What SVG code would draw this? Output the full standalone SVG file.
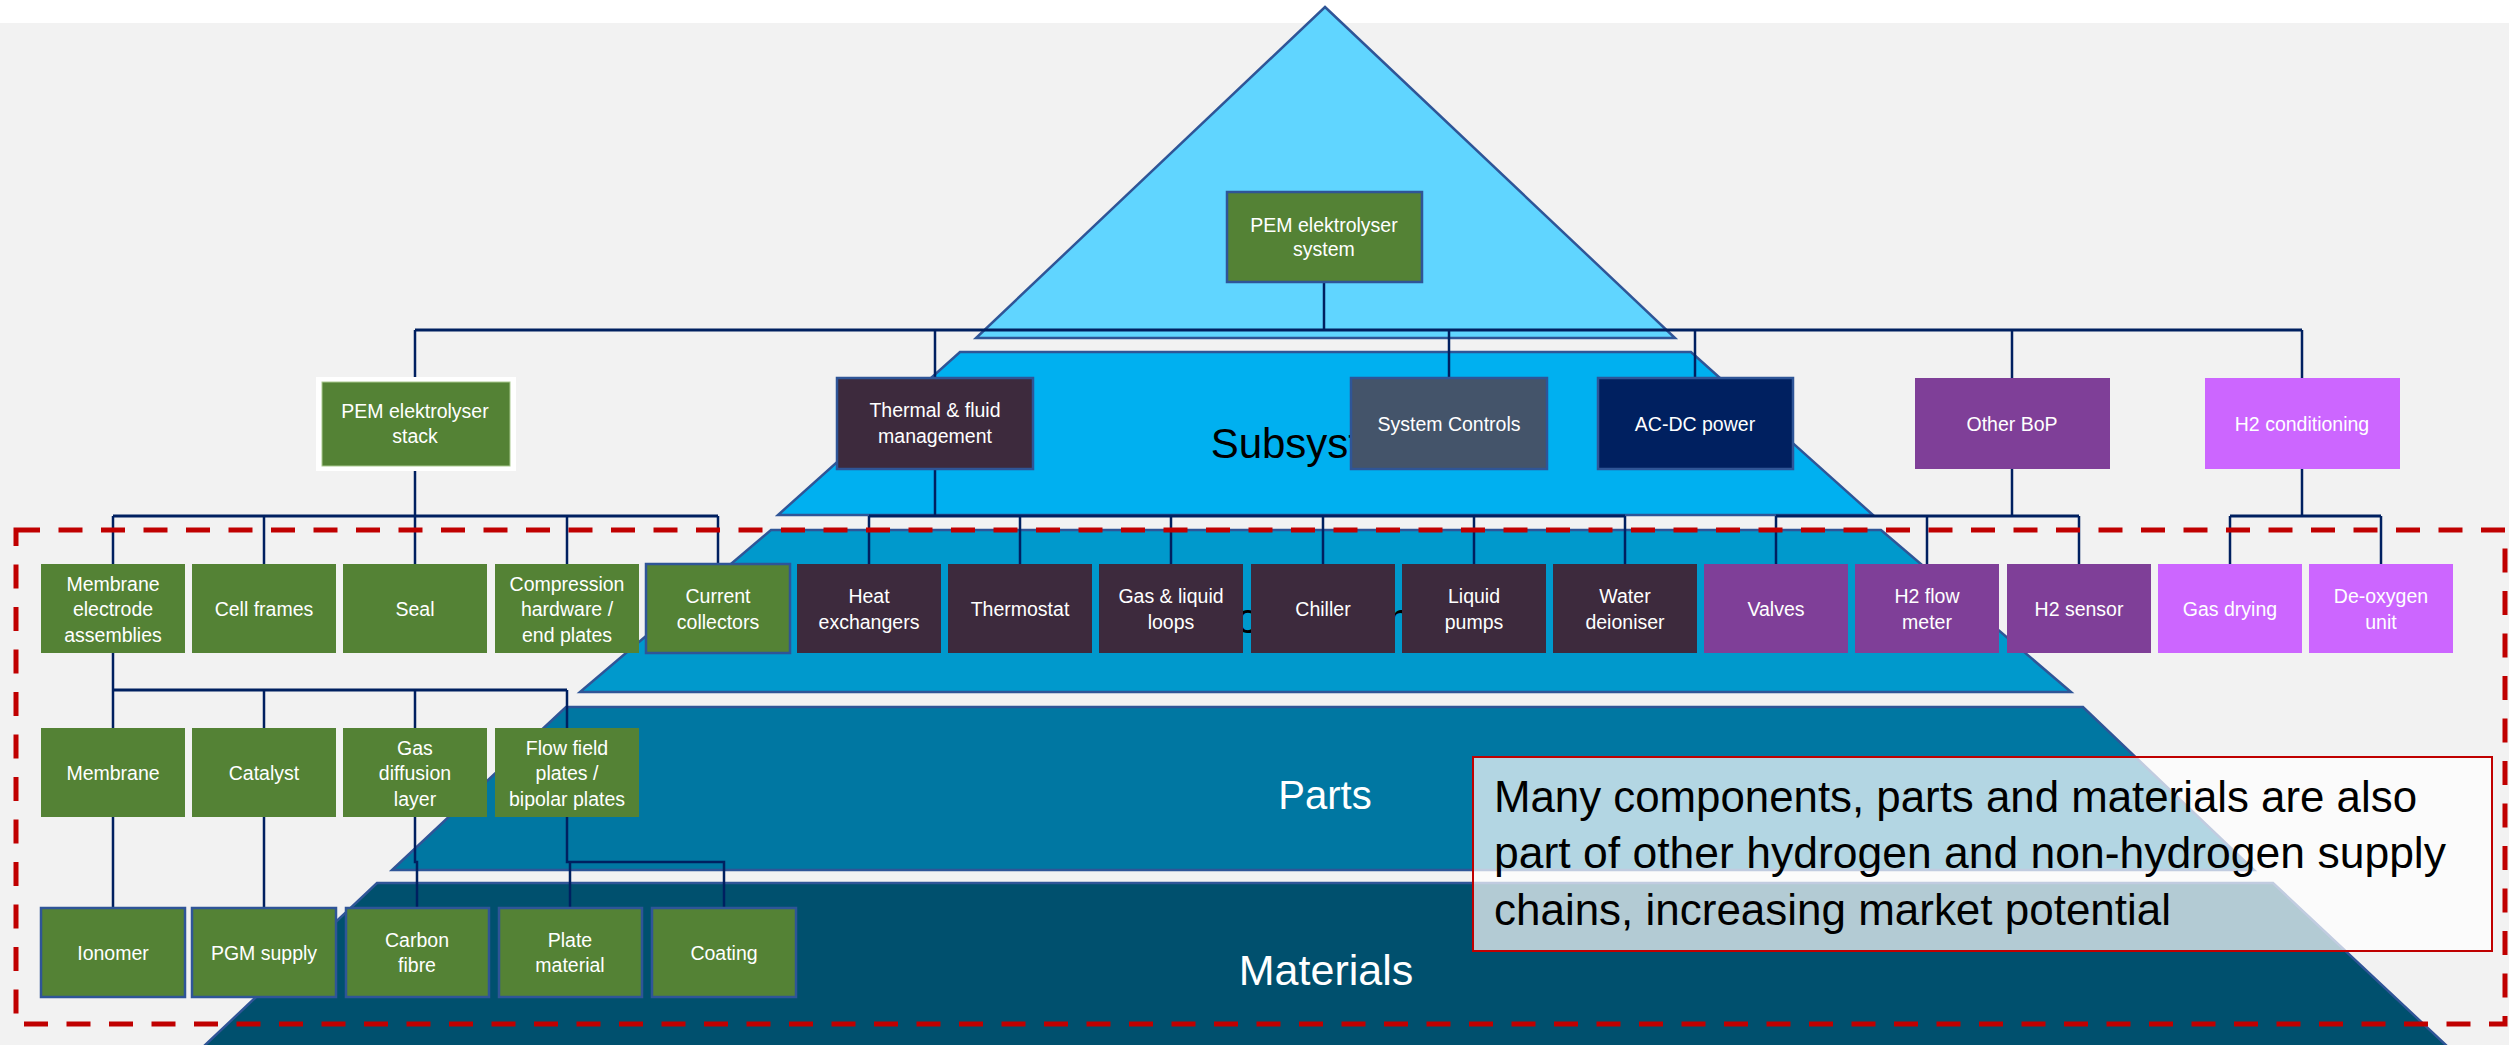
<svg xmlns="http://www.w3.org/2000/svg" width="2509" height="1045" viewBox="0 0 2509 1045">
  <style>
    .lbl { font-family: "Liberation Sans", Arial, sans-serif; font-size: 19.5px; fill: #ffffff; text-anchor: middle; }
    .big { font-family: "Liberation Sans", Arial, sans-serif; text-anchor: middle; }
    .layer { stroke: #2f5597; stroke-width: 2.5; }
    .conn path { fill: none; stroke: #002060; stroke-width: 2.5; }
    .conn path.bus { stroke-width: 3; }
    .green { fill: #548235; }
    .dark { fill: #3d2a3d; }
    .purple { fill: #7f3f98; }
    .pink { fill: #cc66ff; }
    .edge { stroke: #2f5597; stroke-width: 2.5; }
  </style>

  <!-- page background -->
  <rect x="0" y="0" width="2509" height="1045" fill="#ffffff"/>
  <rect x="0" y="23" width="2509" height="1022" fill="#f2f2f2"/>

  <!-- pyramid layers -->
  <g id="pyramid">
    <polygon class="layer" points="1325,7 1675,338 976,338" fill="#60d5ff"/>
    <polygon class="layer" points="960,352 1691,352 1873,515 778,515" fill="#00b0f0"/>
    <polygon class="layer" points="771,530 1881,530 2071,692 580,692" fill="#0099cc"/>
    <polygon class="layer" points="566,707 2083,707 2254,870 392,870" fill="#0077a2"/>
    <polygon class="layer" points="377,883 2273,883 2448,1047 203,1047" fill="#00506e"/>
    <text class="big" x="1325" y="458" font-size="42" fill="#000000">Subsystems</text>
    <text class="big" x="1325" y="633" font-size="42" fill="#000000">Components</text>
    <text class="big" x="1325" y="809" font-size="40" fill="#ffffff">Parts</text>
    <text class="big" x="1326" y="985" font-size="43" fill="#ffffff">Materials</text>
  </g>

  <!-- connectors -->
  <g id="connectors" class="conn">
    <path d="M1324 282 V330"/>
    <path class="bus" d="M415 330 H2302"/>
    <path d="M415 330 V382 M935 330 V378 M1449 330 V378 M1695 330 V378 M2012 330 V378 M2302 330 V378"/>
    <!-- stack -->
    <path d="M415 466 V516"/>
    <path class="bus" d="M113 516 H718"/>
    <path d="M113 516 V564 M264 516 V564 M415 516 V564 M567 516 V564 M718 516 V564"/>
    <!-- thermal & fluid -->
    <path d="M935 469 V516"/>
    <path class="bus" d="M869 516 H1625"/>
    <path d="M869 516 V564 M1020 516 V564 M1171 516 V564 M1323 516 V564 M1474 516 V564 M1625 516 V564"/>
    <!-- other BoP -->
    <path d="M2012 469 V516"/>
    <path class="bus" d="M1776 516 H2079"/>
    <path d="M1776 516 V564 M1927 516 V564 M2079 516 V564"/>
    <!-- H2 conditioning -->
    <path d="M2302 469 V516"/>
    <path class="bus" d="M2230 516 H2381"/>
    <path d="M2230 516 V564 M2381 516 V564"/>
    <!-- membrane electrode assemblies -->
    <path d="M113 653 V690"/>
    <path class="bus" d="M113 690 H567"/>
    <path d="M113 690 V728 M264 690 V728 M415 690 V728 M567 690 V728"/>
    <!-- parts to materials -->
    <path d="M113 817 V908 M264 817 V908 M415 817 V862 H417 V908"/>
    <path d="M567 817 V862 H724 V908 M570 862 V908"/>
  </g>

  <!-- system level -->
  <g id="n-system">
    <rect class="green edge" x="1227" y="192" width="195" height="90"/>
    <text class="lbl" x="1324" y="232">PEM elektrolyser</text>
    <text class="lbl" x="1324" y="256">system</text>
  </g>

  <!-- subsystem level -->
  <g id="n-stack">
    <rect x="316" y="377" width="200" height="94" fill="#ffffff"/>
    <rect class="green" x="322" y="382" width="188" height="84" stroke="#a9c98f" stroke-width="1"/>
    <text class="lbl" x="415" y="418">PEM elektrolyser</text>
    <text class="lbl" x="415" y="443">stack</text>
  </g>
  <g id="n-thermal">
    <rect class="dark edge" x="837" y="378" width="196" height="91"/>
    <text class="lbl" x="935" y="417">Thermal &amp; fluid</text>
    <text class="lbl" x="935" y="443">management</text>
  </g>
  <g id="n-controls">
    <rect class="edge" x="1351" y="378" width="196" height="91" fill="#44546a"/>
    <text class="lbl" x="1449" y="431">System Controls</text>
  </g>
  <g id="n-acdc">
    <rect class="edge" x="1598" y="378" width="195" height="91" fill="#002060"/>
    <text class="lbl" x="1695" y="431">AC-DC power</text>
  </g>
  <g id="n-bop">
    <rect class="purple" x="1915" y="378" width="195" height="91"/>
    <text class="lbl" x="2012" y="431">Other BoP</text>
  </g>
  <g id="n-h2cond">
    <rect class="pink" x="2205" y="378" width="195" height="91"/>
    <text class="lbl" x="2302" y="431">H2 conditioning</text>
  </g>

  <!-- component level -->
  <g id="n-mea">
    <rect class="green" x="41" y="564" width="144" height="89"/>
    <text class="lbl" x="113" y="591">Membrane</text>
    <text class="lbl" x="113" y="616">electrode</text>
    <text class="lbl" x="113" y="642">assemblies</text>
  </g>
  <g id="n-cellframes">
    <rect class="green" x="192" y="564" width="144" height="89"/>
    <text class="lbl" x="264" y="616">Cell frames</text>
  </g>
  <g id="n-seal">
    <rect class="green" x="343" y="564" width="144" height="89"/>
    <text class="lbl" x="415" y="616">Seal</text>
  </g>
  <g id="n-compression">
    <rect class="green" x="495" y="564" width="144" height="89"/>
    <text class="lbl" x="567" y="591">Compression</text>
    <text class="lbl" x="567" y="616">hardware /</text>
    <text class="lbl" x="567" y="642">end plates</text>
  </g>
  <g id="n-collectors">
    <rect class="green edge" x="646" y="564" width="144" height="89"/>
    <text class="lbl" x="718" y="603">Current</text>
    <text class="lbl" x="718" y="629">collectors</text>
  </g>
  <g id="n-heatex">
    <rect class="dark" x="797" y="564" width="144" height="89"/>
    <text class="lbl" x="869" y="603">Heat</text>
    <text class="lbl" x="869" y="629">exchangers</text>
  </g>
  <g id="n-thermostat">
    <rect class="dark" x="948" y="564" width="144" height="89"/>
    <text class="lbl" x="1020" y="616">Thermostat</text>
  </g>
  <g id="n-loops">
    <rect class="dark" x="1099" y="564" width="144" height="89"/>
    <text class="lbl" x="1171" y="603">Gas &amp; liquid</text>
    <text class="lbl" x="1171" y="629">loops</text>
  </g>
  <g id="n-chiller">
    <rect class="dark" x="1251" y="564" width="144" height="89"/>
    <text class="lbl" x="1323" y="616">Chiller</text>
  </g>
  <g id="n-pumps">
    <rect class="dark" x="1402" y="564" width="144" height="89"/>
    <text class="lbl" x="1474" y="603">Liquid</text>
    <text class="lbl" x="1474" y="629">pumps</text>
  </g>
  <g id="n-deioniser">
    <rect class="dark" x="1553" y="564" width="144" height="89"/>
    <text class="lbl" x="1625" y="603">Water</text>
    <text class="lbl" x="1625" y="629">deioniser</text>
  </g>
  <g id="n-valves">
    <rect class="purple" x="1704" y="564" width="144" height="89"/>
    <text class="lbl" x="1776" y="616">Valves</text>
  </g>
  <g id="n-flowmeter">
    <rect class="purple" x="1855" y="564" width="144" height="89"/>
    <text class="lbl" x="1927" y="603">H2 flow</text>
    <text class="lbl" x="1927" y="629">meter</text>
  </g>
  <g id="n-sensor">
    <rect class="purple" x="2007" y="564" width="144" height="89"/>
    <text class="lbl" x="2079" y="616">H2 sensor</text>
  </g>
  <g id="n-drying">
    <rect class="pink" x="2158" y="564" width="144" height="89"/>
    <text class="lbl" x="2230" y="616">Gas drying</text>
  </g>
  <g id="n-deoxy">
    <rect class="pink" x="2309" y="564" width="144" height="89"/>
    <text class="lbl" x="2381" y="603">De-oxygen</text>
    <text class="lbl" x="2381" y="629">unit</text>
  </g>

  <!-- part level -->
  <g id="n-membrane">
    <rect class="green" x="41" y="728" width="144" height="89"/>
    <text class="lbl" x="113" y="780">Membrane</text>
  </g>
  <g id="n-catalyst">
    <rect class="green" x="192" y="728" width="144" height="89"/>
    <text class="lbl" x="264" y="780">Catalyst</text>
  </g>
  <g id="n-gdl">
    <rect class="green" x="343" y="728" width="144" height="89"/>
    <text class="lbl" x="415" y="755">Gas</text>
    <text class="lbl" x="415" y="780">diffusion</text>
    <text class="lbl" x="415" y="806">layer</text>
  </g>
  <g id="n-flowfield">
    <rect class="green" x="495" y="728" width="144" height="89"/>
    <text class="lbl" x="567" y="755">Flow field</text>
    <text class="lbl" x="567" y="780">plates /</text>
    <text class="lbl" x="567" y="806">bipolar plates</text>
  </g>

  <!-- material level -->
  <g id="n-ionomer">
    <rect class="green edge" x="41" y="908" width="144" height="89"/>
    <text class="lbl" x="113" y="960">Ionomer</text>
  </g>
  <g id="n-pgm">
    <rect class="green edge" x="192" y="908" width="144" height="89"/>
    <text class="lbl" x="264" y="960">PGM supply</text>
  </g>
  <g id="n-carbon">
    <rect class="green edge" x="346" y="908" width="143" height="89"/>
    <text class="lbl" x="417" y="947">Carbon</text>
    <text class="lbl" x="417" y="972">fibre</text>
  </g>
  <g id="n-plate">
    <rect class="green edge" x="499" y="908" width="143" height="89"/>
    <text class="lbl" x="570" y="947">Plate</text>
    <text class="lbl" x="570" y="972">material</text>
  </g>
  <g id="n-coating">
    <rect class="green edge" x="652" y="908" width="144" height="89"/>
    <text class="lbl" x="724" y="960">Coating</text>
  </g>

  <!-- scope frame -->
  <rect x="16" y="530" width="2489" height="494" fill="none" stroke="#c00000" stroke-width="5" stroke-dasharray="24 18.5"/>

  <!-- note -->
  <g id="note">
    <rect x="1473" y="757" width="1019" height="194" fill="#ffffff" fill-opacity="0.7" stroke="#c00000" stroke-width="2"/>
    <g font-family="'Liberation Sans', Arial, sans-serif" font-size="44" fill="#000000">
      <text x="1494" y="812" textLength="923" lengthAdjust="spacingAndGlyphs">Many components, parts and materials are also</text>
      <text x="1494" y="868" textLength="952" lengthAdjust="spacingAndGlyphs">part of other hydrogen and non-hydrogen supply</text>
      <text x="1494" y="925" textLength="677" lengthAdjust="spacingAndGlyphs">chains, increasing market potential</text>
    </g>
  </g>
</svg>
